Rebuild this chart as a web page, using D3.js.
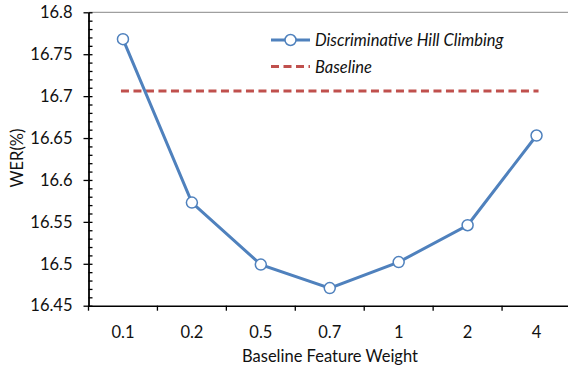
<!DOCTYPE html>
<html>
<head>
<meta charset="utf-8">
<script src="https://cdn.jsdelivr.net/npm/d3@7"></script>
<style>
  body { margin: 0; background: #fff; }
  svg { display: block; font-family: Lato, "Open Sans", sans-serif; }
</style>
</head>
<body>
<div id="chart"></div>
<script>
// chart data
const weights = ['0.1', '0.2', '0.5', '0.7', '1', '2', '4'];
const hillClimbing = [16.768, 16.573, 16.499, 16.471, 16.502, 16.546, 16.653];
const baseline = 16.706;
const yTicks = [16.45, 16.5, 16.55, 16.6, 16.65, 16.7, 16.75, 16.8];

const width = 568, height = 366;
const plotLeft = 88.5, plotRight = 571, plotTop = 12.3, plotBottom = 305.7;
const blue = '#4F81BD', red = '#C0504D';
const fontSize = '16.5px';

const svg = d3.select('#chart').append('svg').attr('width', width).attr('height', height);

const x = d3.scaleBand().domain(weights).range([plotLeft, plotRight]);
const y = d3.scaleLinear().domain([16.45, 16.8]).range([plotBottom, plotTop]);

// top border of plot area
svg.append('line')
  .attr('x1', plotLeft).attr('x2', plotRight)
  .attr('y1', y(16.8)).attr('y2', y(16.8))
  .style('stroke', '#888').style('stroke-width', 1);

// minor ticks inside
const minor = d3.range(0, 36).map(i => 16.45 + i * 0.01);
svg.append('g')
  .attr('transform', `translate(${plotLeft},0)`)
  .call(d3.axisRight(y).tickValues(minor).tickSize(4).tickFormat(''))
  .call(g => g.select('.domain').remove())
  .call(g => g.selectAll('line').style('stroke', '#000').style('stroke-width', 1.3));

// y axis
svg.append('g')
  .attr('transform', `translate(${plotLeft},0)`)
  .call(d3.axisLeft(y).tickValues(yTicks).tickSize(5).tickSizeOuter(0).tickPadding(11).tickFormat(d3.format('')))
  .call(g => g.select('.domain').style('stroke', '#000').style('stroke-width', 1.8))
  .call(g => g.selectAll('.tick line').style('stroke', '#000').style('stroke-width', 1.3))
  .call(g => g.selectAll('text').style('font-size', fontSize).style('fill', '#111').style('font-family', 'Lato, sans-serif'));

// x axis
svg.append('g')
  .attr('transform', `translate(0,${plotBottom})`)
  .call(d3.axisBottom(x).tickSize(0).tickSizeOuter(0).tickPadding(21))
  .call(g => g.select('.domain').style('stroke', '#000').style('stroke-width', 1.5))
  .call(g => g.selectAll('text').style('font-size', fontSize).style('fill', '#111').style('font-family', 'Lato, sans-serif'));

// boundary ticks between categories
svg.append('g')
  .selectAll('line')
  .data(weights)
  .enter()
  .append('line')
  .attr('x1', d => x(d)).attr('x2', d => x(d))
  .attr('y1', plotBottom).attr('y2', plotBottom + 5)
  .style('stroke', '#000').style('stroke-width', 1.3);

// axis titles
svg.append('text')
  .attr('x', 330).attr('y', 362)
  .attr('text-anchor', 'middle')
  .style('font-size', fontSize).style('fill', '#111')
  .text('Baseline Feature Weight');

svg.append('text')
  .attr('transform', `translate(23,158) rotate(-90)`)
  .attr('text-anchor', 'middle')
  .style('font-size', fontSize).style('fill', '#111')
  .text('WER(%)');

// baseline
svg.append('line')
  .attr('x1', x(weights[0]) + x.bandwidth() / 2 - 2)
  .attr('x2', x(weights[weights.length - 1]) + x.bandwidth() / 2 + 2)
  .attr('y1', y(baseline)).attr('y2', y(baseline))
  .style('stroke', red).style('stroke-width', 3).style('stroke-dasharray', '8,4.5');

// series line
const cx = (d, i) => x(weights[i]) + x.bandwidth() / 2;
const line = d3.line().x(cx).y(d => y(d));
svg.append('path')
  .datum(hillClimbing)
  .attr('d', line)
  .style('fill', 'none').style('stroke', blue).style('stroke-width', 3);

svg.append('g')
  .selectAll('circle')
  .data(hillClimbing)
  .enter()
  .append('circle')
  .attr('cx', cx).attr('cy', d => y(d))
  .attr('r', 5.5)
  .style('fill', '#fff').style('stroke', blue).style('stroke-width', 1.5);

// legend
const legend = svg.append('g');
legend.append('line')
  .attr('x1', 271).attr('x2', 310).attr('y1', 40).attr('y2', 40)
  .style('stroke', blue).style('stroke-width', 3);
legend.append('circle')
  .attr('cx', 290.5).attr('cy', 40).attr('r', 5.5)
  .style('fill', '#fff').style('stroke', blue).style('stroke-width', 1.5);
legend.append('text')
  .attr('x', 315).attr('y', 46)
  .style('font-size', fontSize).style('font-style', 'italic').style('fill', '#111')
  .text('Discriminative Hill Climbing');
legend.append('line')
  .attr('x1', 271).attr('x2', 310).attr('y1', 66.5).attr('y2', 66.5)
  .style('stroke', red).style('stroke-width', 3).style('stroke-dasharray', '8,4.5');
legend.append('text')
  .attr('x', 315).attr('y', 72.5)
  .style('font-size', fontSize).style('font-style', 'italic').style('fill', '#111')
  .text('Baseline');
</script>
</body>
</html>
